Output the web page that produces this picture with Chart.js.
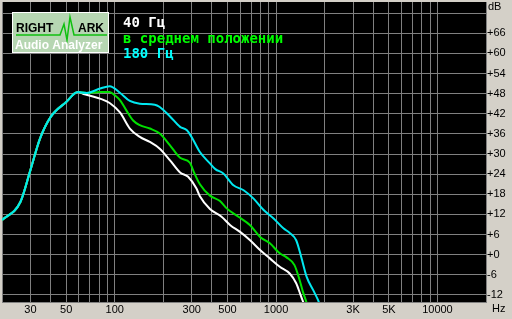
<!DOCTYPE html>
<html>
<head>
<meta charset="utf-8">
<script src="https://cdn.jsdelivr.net/npm/chart.js@4.4.1/dist/chart.umd.min.js"></script>
<style>
html, body { margin: 0; padding: 0; background: #d4d0c8; }
#wrap { width: 512px; height: 319px; }
</style>
</head>
<body>
<div id="wrap"><canvas id="frChart" width="512" height="319"></canvas></div>
<script>
// frequency response curves (Hz / dB)
const freqWhite = [20, 26, 30, 34.4, 40, 50, 59, 65, 81, 93, 108, 124, 143, 165, 190, 220, 254, 285, 321, 337, 389, 459, 520, 598, 690, 795, 915, 1054, 1214, 1332, 1430, 1480, 1550];
const dbWhite   = [10.3, 15.7, 25.2, 34.6, 41, 45.5, 48.5, 47.8, 46.5, 45.2, 42.3, 37.6, 35.1, 33.6, 31.6, 28.1, 24.5, 23.2, 19.7, 17.4, 13.6, 11.3, 8.8, 6.8, 4.3, 1.4, -1.1, -3.6, -5.6, -8.5, -12.5, -14.4, -17];

const freqGreen = [20, 26, 30, 34.4, 40, 50, 59, 67, 81, 93, 100, 108, 118, 130, 143, 165, 190, 220, 254, 292, 310, 337, 389, 449, 494, 584, 690, 795, 915, 1054, 1161, 1300, 1400, 1465, 1547, 1600];
const dbGreen   = [10.3, 15.7, 25.2, 34.6, 41, 45.5, 48.5, 48.2, 48.5, 48.5, 47.5, 46, 43, 40, 38.6, 37.6, 36.1, 32.6, 28.9, 27.4, 24.5, 21, 17.6, 16, 13.8, 11.3, 8.8, 5.3, 3.4, 0.4, -0.8, -3.1, -7.6, -11, -14.4, -17];

const freqCyan = [20, 26, 30, 34.4, 40, 50, 59, 67, 81, 93, 108, 124, 143, 177, 190, 220, 254, 280, 300, 337, 389, 420, 471, 544, 629, 725, 837, 965, 1114, 1214, 1332, 1430, 1547, 1695, 1818, 1900];
const dbCyan   = [10.3, 15.7, 25.2, 34.6, 41, 45.5, 48.5, 48.2, 49.5, 50.2, 48.2, 45.8, 45, 44.7, 44, 41.2, 38.1, 37.1, 35, 30.6, 27.2, 25.5, 24.2, 20.7, 19.2, 16.7, 13.3, 10.8, 7.8, 6.5, 4.3, -0.6, -6.6, -10.5, -13.5, -16];

const seriesNames = ['40 Гц', 'в среднем положении', '180 Гц'];

// axes
const xGridValues = [20, 30, 40, 50, 60, 70, 80, 90, 100, 200, 300, 400, 500, 600, 700, 800, 900,
                     1000, 2000, 3000, 4000, 5000, 6000, 7000, 8000, 9000, 10000, 20000];
const xLabelValues = [30, 50, 100, 300, 500, 1000, 3000, 5000, 10000];
const xLabelTexts  = ['30', '50', '100', '300', '500', '1000', '3K', '5K', '10000'];
const yTickValues = [-12, -6, 0, 6, 12, 18, 24, 30, 36, 42, 48, 54, 60, 66, 72];

function toPoints(fs, ds) {
    return fs.map((f, i) => ({ x: f, y: ds[i] }));
}

const bgPlugin = {
    id: 'bg',
    beforeDraw(chart) {
        const ctx = chart.ctx;
        const a = chart.chartArea;
        ctx.save();
        ctx.fillStyle = '#d4d0c8';
        ctx.fillRect(0, 0, chart.width, chart.height);
        ctx.fillStyle = '#000000';
        ctx.fillRect(a.left, a.top, a.right - a.left, a.bottom - a.top);
        ctx.restore();
    }
};

const overlayPlugin = {
    id: 'overlay',
    afterDraw(chart) {
        const ctx = chart.ctx;
        const a = chart.chartArea;
        ctx.save();

        // logo
        ctx.fillStyle = '#b6d6b2';
        ctx.fillRect(12, 12, 97, 41);
        ctx.strokeStyle = '#ffffff';
        ctx.lineWidth = 1;
        ctx.strokeRect(12.5, 12.5, 96, 40);
        ctx.fillStyle = '#000000';
        ctx.font = 'bold 12px "Liberation Sans", Arial, sans-serif';
        ctx.textBaseline = 'alphabetic';
        ctx.textAlign = 'left';
        ctx.fillText('RIGHT', 16, 32);
        ctx.fillText('ARK', 78, 32);
        ctx.strokeStyle = '#10c010';
        ctx.lineWidth = 1.5;
        ctx.beginPath();
        ctx.moveTo(16, 35);
        ctx.lineTo(60, 35);
        ctx.lineTo(64, 24);
        ctx.lineTo(67, 40);
        ctx.lineTo(70, 17);
        ctx.lineTo(74, 35);
        ctx.lineTo(107, 35);
        ctx.stroke();
        ctx.fillStyle = '#ffffff';
        ctx.font = 'bold 12px "Liberation Sans", Arial, sans-serif';
        ctx.fillText('Audio Analyzer', 15, 49);

        // series captions
        ctx.font = 'bold 14px "DejaVu Sans Mono", "Liberation Mono", monospace';
        ctx.textBaseline = 'middle';
        const capColors = ['#ffffff', '#00ff00', '#00ffff'];
        const capY = [23, 39, 54];
        seriesNames.forEach((s, i) => {
            ctx.fillStyle = capColors[i];
            ctx.fillText(s, 123, capY[i]);
        });

        // unit labels
        ctx.fillStyle = '#000000';
        ctx.font = '11px "Liberation Sans", Arial, sans-serif';
        ctx.fillText('dB', a.right + 2, 7);
        ctx.fillText('Hz', a.right + 6, 309);
        ctx.restore();
    }
};

const lineStyle = {
    borderWidth: 2,
    pointRadius: 0,
    fill: false,
    cubicInterpolationMode: 'monotone'
};

// first dataset is drawn on top, so cyan goes first
new Chart(document.getElementById('frChart'), {
    type: 'line',
    data: {
        datasets: [
            Object.assign({ label: seriesNames[2], data: toPoints(freqCyan, dbCyan), borderColor: '#00e8f0' }, lineStyle),
            Object.assign({ label: seriesNames[1], data: toPoints(freqGreen, dbGreen), borderColor: '#00e000' }, lineStyle),
            Object.assign({ label: seriesNames[0], data: toPoints(freqWhite, dbWhite), borderColor: '#ffffff' }, lineStyle)
        ]
    },
    options: {
        responsive: false,
        animation: false,
        events: [],
        layout: { padding: { top: 2, left: 2, right: 0, bottom: 0 } },
        plugins: {
            legend: { display: false },
            tooltip: { enabled: false }
        },
        scales: {
            x: {
                type: 'logarithmic',
                min: 20,
                max: 20000,
                afterBuildTicks(scale) {
                    scale.ticks = xGridValues.map(v => ({ value: v }));
                },
                afterFit(scale) {
                    scale.height = 17;
                    scale.paddingLeft = 0;
                    scale.paddingRight = 0;
                },
                grid: { color: '#808080', lineWidth: 1, drawTicks: false },
                border: { color: '#808080' },
                ticks: {
                    autoSkip: false,
                    maxRotation: 0,
                    minRotation: 0,
                    padding: 1,
                    color: '#000000',
                    font: { family: '"Liberation Sans", Arial, sans-serif', size: 11 },
                    callback(value) {
                        const i = xLabelValues.indexOf(Number(value));
                        return i >= 0 ? xLabelTexts[i] : '';
                    }
                }
            },
            y: {
                type: 'linear',
                position: 'right',
                min: -14.1,
                max: 75.3,
                afterBuildTicks(scale) {
                    scale.ticks = yTickValues.map(v => ({ value: v }));
                },
                afterFit(scale) {
                    scale.width = 26;
                    scale.paddingTop = 0;
                    scale.paddingBottom = 0;
                },
                grid: { color: '#808080', lineWidth: 1, drawTicks: false },
                border: { color: '#808080' },
                ticks: {
                    autoSkip: false,
                    padding: 1,
                    color: '#000000',
                    font: { family: '"Liberation Sans", Arial, sans-serif', size: 11 },
                    callback(value) {
                        if (value === 72) return '';
                        return value >= 0 ? '+' + value : String(value);
                    }
                }
            }
        }
    },
    plugins: [bgPlugin, overlayPlugin]
});
</script>
</body>
</html>
